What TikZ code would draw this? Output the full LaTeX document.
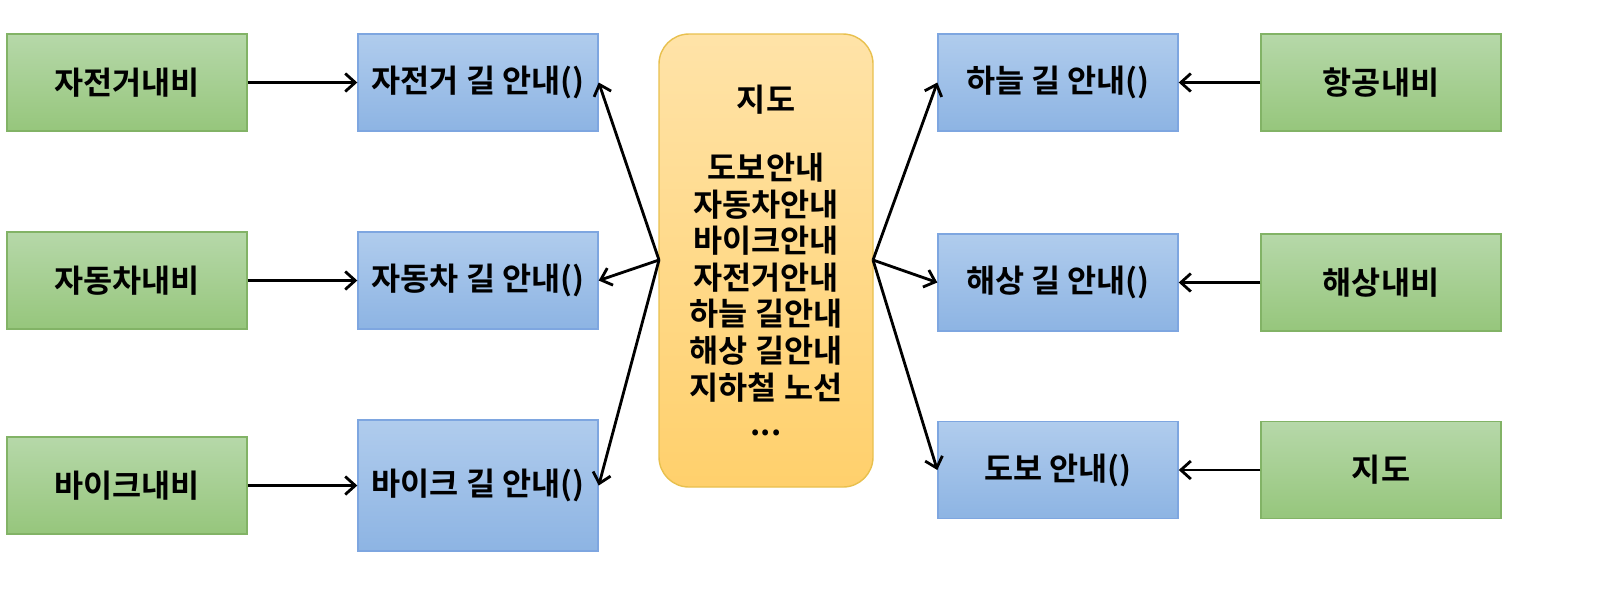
\documentclass[tikz,border=0pt]{standalone}
\usepackage{fontspec}
\setmainfont{Noto Sans CJK KR}[BoldFont={* Bold}]
\usetikzlibrary{arrows.meta}
\definecolor{gtop}{HTML}{B6D8A9}
\definecolor{gbot}{HTML}{96C67C}
\definecolor{gline}{HTML}{82B366}
\definecolor{btop}{HTML}{B0CCED}
\definecolor{bbot}{HTML}{8DB4E3}
\definecolor{bline}{HTML}{7EA6E0}
\definecolor{otop}{HTML}{FFE3A8}
\definecolor{obot}{HTML}{FFD06C}
\definecolor{oline}{HTML}{E8C04E}
\tikzset{
  navi/.style={draw=gline, top color=gtop, bottom color=gbot, minimum width=2.4cm, minimum height=0.97cm, font=\bfseries\fontsize{9}{10}\selectfont},
  guide/.style={draw=bline, top color=btop, bottom color=bbot, minimum width=2.4cm, minimum height=0.97cm, font=\bfseries\fontsize{9}{10}\selectfont},
  link/.style={-{Straight Barb[length=1mm,width=1.8mm]}, thick}
}
\begin{document}%
\begin{tikzpicture}[x=1cm,y=-1cm]
	\useasboundingbox (0,0) rectangle (16.06,5.99);

	\node[navi] (bikenavi) at (1.27,0.825) {자전거내비};
	\node[navi] (carnavi) at (1.27,2.805) {자동차내비};
	\node[navi] (motonavi) at (1.27,4.855) {바이크내비};

	\node[guide] (bike) at (4.78,0.825) {자전거 길 안내()};
	\node[guide] (car) at (4.78,2.805) {자동차 길 안내()};
	\node[guide, minimum height=1.31cm] (moto) at (4.78,4.855) {바이크 길 안내()};

	\node[draw=oline, top color=otop, bottom color=obot, rounded corners=0.3cm, minimum width=2.14cm, minimum height=4.53cm, align=center, font=\bfseries\fontsize{9}{10.4}\selectfont] (map) at (7.66,2.605)
		{지도\\[1em]도보안내\\자동차안내\\바이크안내\\자전거안내\\하늘 길안내\\해상 길안내\\지하철 노선\\...};

	\node[guide] (sky) at (10.58,0.825) {하늘 길 안내()};
	\node[guide] (sea) at (10.58,2.825) {해상 길 안내()};
	\node[guide] (walk) at (10.58,4.70) {도보 안내()};

	\node[navi] (airnavi) at (13.81,0.825) {항공내비};
	\node[navi] (seanavi) at (13.81,2.825) {해상내비};
	\node[navi] (mapnavi) at (13.81,4.70) {지도};

	\coordinate (mapl) at (6.59,2.60);
	\coordinate (mapr) at (8.73,2.60);

	\draw[link] (bikenavi) -- (bike);
	\draw[link] (carnavi) -- (car);
	\draw[link] (motonavi) -- (moto);
	\draw[link] (airnavi) -- (sky);
	\draw[link] (seanavi) -- (sea);
	\draw[link] (mapnavi) -- (walk);

	\draw[link] (mapl) -- (bike.east);
	\draw[link] (mapl) -- (car.east);
	\draw[link] (mapl) -- (moto.east);
	\draw[link] (mapr) -- (sky.west);
	\draw[link] (mapr) -- (sea.west);
	\draw[link] (mapr) -- (walk.west);
\end{tikzpicture}%
\end{document}
